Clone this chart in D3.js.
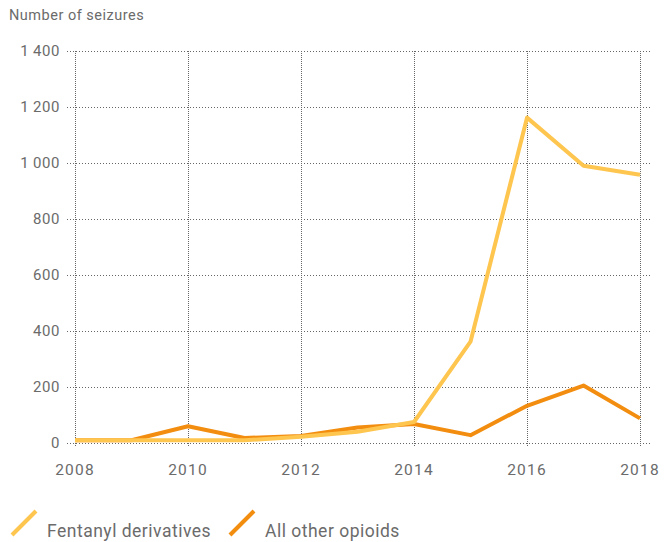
<!DOCTYPE html>
<html>
<head>
<meta charset="utf-8">
<script src="https://cdn.jsdelivr.net/npm/d3@7"></script>
<style>
  body { margin: 0; background: #fff; }
  svg text { font-family: Roboto, "Liberation Sans", sans-serif; fill: #6b6b6b; }
</style>
</head>
<body>
<div id="chart"></div>
<script>
// data
const years = [2008, 2009, 2010, 2011, 2012, 2013, 2014, 2015, 2016, 2017, 2018];
const fentanylValues = [10, 10, 10, 10, 22, 40, 75, 362, 1162, 990, 958];
const otherValues = [10, 10, 60, 18, 25, 55, 68, 28, 133, 205, 88];
const yTicks = [0, 200, 400, 600, 800, 1000, 1200, 1400];
const xTicks = [2008, 2010, 2012, 2014, 2016, 2018];
const seriesNames = ["Fentanyl derivatives", "All other opioids"];
const seriesColors = ["#fec54f", "#f28d10"];

const width = 672, height = 542;
const plotLeft = 75, plotRight = 640, plotTop = 51, plotBottom = 443;

const svg = d3.select("#chart").append("svg")
    .attr("width", width)
    .attr("height", height);

const x = d3.scaleLinear().domain([2008, 2018]).range([plotLeft, plotRight]);
const y = d3.scaleLinear().domain([0, 1400]).range([plotBottom, plotTop]);

// horizontal grid
svg.append("g")
    .selectAll("line")
    .data(yTicks)
    .join("line")
    .attr("x1", plotLeft - 8)
    .attr("x2", plotRight + 10)
    .attr("y1", d => y(d) + 0.5)
    .attr("y2", d => y(d) + 0.5)
    .attr("stroke", "#666")
    .attr("stroke-width", 1)
    .attr("stroke-dasharray", "1,2");

// vertical grid
svg.append("g")
    .selectAll("line")
    .data(xTicks)
    .join("line")
    .attr("x1", d => x(d) + 0.5)
    .attr("x2", d => x(d) + 0.5)
    .attr("y1", plotTop)
    .attr("y2", plotBottom + 3)
    .attr("stroke", "#666")
    .attr("stroke-width", 1)
    .attr("stroke-dasharray", "1,1");

// y labels
svg.append("g")
    .selectAll("text")
    .data(yTicks)
    .join("text")
    .attr("x", plotLeft - 15)
    .attr("y", d => y(d) + 5)
    .attr("text-anchor", "end")
    .style("font-size", "15px")
    .style("letter-spacing", "0.6px")
    .text(d => d >= 1000 ? d3.format(",")(d).replace(",", "\u2009") : d);

// x labels
svg.append("g")
    .selectAll("text")
    .data(xTicks)
    .join("text")
    .attr("x", d => x(d))
    .attr("y", plotBottom + 32)
    .attr("text-anchor", "middle")
    .style("font-size", "15.5px")
    .style("letter-spacing", "1.2px")
    .text(d => d);

// title
svg.append("text")
    .attr("x", 9)
    .attr("y", 20)
    .style("font-size", "14.5px")
    .style("letter-spacing", "0.5px")
    .text("Number of seizures");

// lines
const line = d3.line()
    .x((d, i) => x(years[i]))
    .y(d => y(d));

const series = [fentanylValues, otherValues];
// others first so fentanyl sits on top where they overlap early on
svg.append("g")
    .selectAll("path")
    .data([1, 0])
    .join("path")
    .attr("fill", "none")
    .attr("stroke", i => seriesColors[i])
    .attr("stroke-width", 4)
    .attr("stroke-linejoin", "round")
    .attr("d", i => line(series[i]));

// legend
const legendX = [12, 230];
const legend = svg.append("g")
    .selectAll("g")
    .data(seriesNames)
    .join("g")
    .attr("transform", (d, i) => "translate(" + legendX[i] + ",0)");

legend.append("line")
    .attr("x1", 0)
    .attr("y1", 535)
    .attr("x2", 24)
    .attr("y2", 511)
    .attr("stroke", (d, i) => seriesColors[i])
    .attr("stroke-width", 4);

legend.append("text")
    .attr("x", 35)
    .attr("y", 537)
    .style("font-size", "17.5px")
    .style("letter-spacing", "0.5px")
    .text(d => d);
</script>
</body>
</html>
